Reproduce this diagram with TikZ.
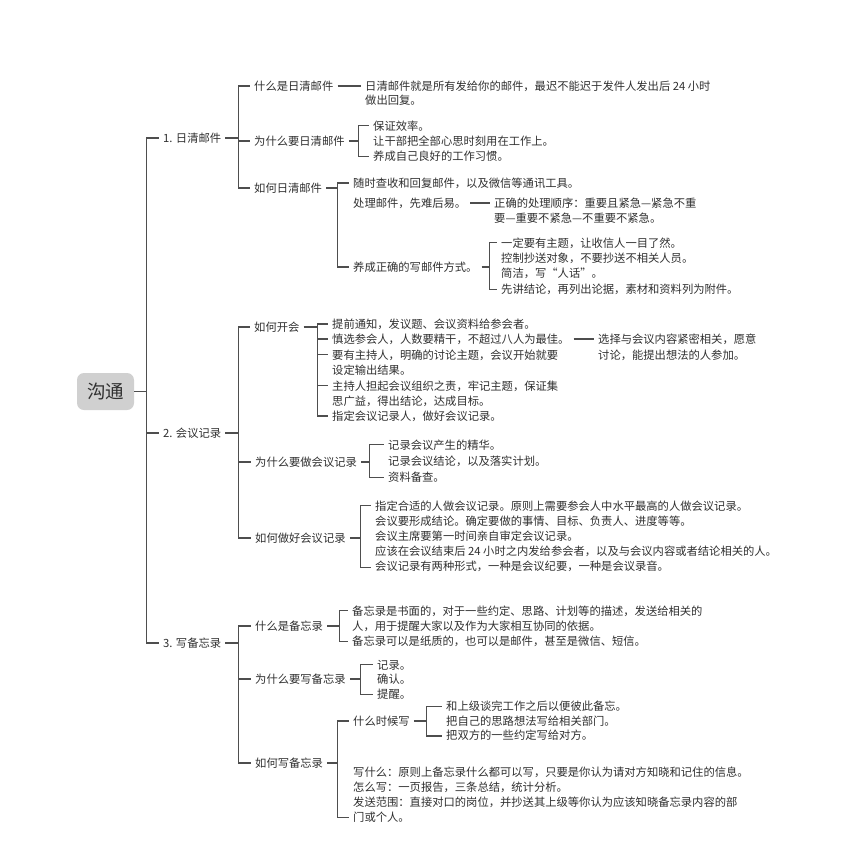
\documentclass[tikz,border=0pt]{standalone}
\usepackage{fontspec}
\setmainfont{Noto Sans CJK SC}
\usepackage{xcolor}
\definecolor{textgray}{HTML}{303030}
\definecolor{linegray}{HTML}{4E4E4E}
\definecolor{rootgray}{HTML}{D0D0D0}
\usetikzlibrary{calc}
\newcommand{\notefont}[1]{\fontsize{11.3}{#1}\selectfont}
\tikzset{
  topic/.style={anchor=west, inner xsep=4pt, inner ysep=1pt, text=textgray, font=\notefont{14.5}},
  note/.style={topic, align=left},
  branch/.style={draw=linegray, line width=1.05pt},
  rootbox/.style={fill=rootgray, rounded corners=7pt, minimum width=57pt, minimum height=37pt, text=textgray, font=\fontsize{18.5}{20}\selectfont},
}

\begin{document}
\begin{tikzpicture}[x=1pt, y=-1pt]
  \useasboundingbox (0,0) rectangle (846,855);
  \fill[white] (0,0) rectangle (846,855);

  \node[rootbox] (root) at (105.5,391.5) {沟通};
  \node[topic] (A) at (159,138) {1. 日清邮件};
  \node[topic] (B) at (159,433) {2. 会议记录};
  \node[topic] (C) at (159,643) {3. 写备忘录};

  \node[topic] (A1) at (250,86) {什么是日清邮件};
  \node[topic] (A2) at (250,141) {为什么要日清邮件};
  \node[topic] (A3) at (250,188) {如何日清邮件};
  \node[note, font=\notefont{14}] (A1t) at (361,93) {日清邮件就是所有发给你的邮件，最迟不能迟于发件人发出后 24 小时\\做出回复。};
  \node[note, font=\notefont{15}] (A2t) at (369,141) {保证效率。\\让干部把全部心思时刻用在工作上。\\养成自己良好的工作习惯。};
  \node[topic] (A31) at (349,183) {随时查收和回复邮件，以及微信等通讯工具。};
  \node[topic] (A32) at (349,203) {处理邮件，先难后易。};
  \node[topic] (A33) at (349,267) {养成正确的写邮件方式。};
  \node[note, font=\notefont{15}] (A32t) at (490,210.5) {正确的处理顺序：重要且紧急—紧急不重\\要—重要不紧急—不重要不紧急。};
  \node[note, font=\notefont{15.3}] (A33t) at (497,266) {一定要有主题，让收信人一目了然。\\控制抄送对象，不要抄送不相关人员。\\简洁，写“人话”。\\先讲结论，再列出论据，素材和资料列为附件。};

  \node[topic] (B1) at (250,327) {如何开会};
  \node[topic] (B11) at (328,324) {提前通知，发议题、会议资料给参会者。};
  \node[topic] (B12) at (328,339) {慎选参会人，人数要精干，不超过八人为最佳。};
  \node[note, font=\notefont{15}] (B13) at (328,362.5) {要有主持人，明确的讨论主题，会议开始就要\\设定输出结果。};
  \node[note, font=\notefont{15}] (B14) at (328,393.5) {主持人担起会议组织之责，牢记主题，保证集\\思广益，得出结论，达成目标。};
  \node[topic] (B15) at (328,416) {指定会议记录人，做好会议记录。};
  \node[note, font=\notefont{16}] (B12t) at (594,347) {选择与会议内容紧密相关，愿意\\讨论，能提出想法的人参加。};
  \node[topic] (B2) at (251,462) {为什么要做会议记录};
  \node[note, font=\notefont{16}] (B2t) at (384,461) {记录会议产生的精华。\\记录会议结论，以及落实计划。\\资料备查。};
  \node[topic] (B3) at (251,538) {如何做好会议记录};
  \node[note, font=\notefont{15}] (B3t) at (371,536.5) {指定合适的人做会议记录。原则上需要参会人中水平最高的人做会议记录。\\会议要形成结论。确定要做的事情、目标、负责人、进度等等。\\会议主席要第一时间亲自审定会议记录。\\应该在会议结束后 24 小时之内发给参会者，以及与会议内容或者结论相关的人。\\会议记录有两种形式，一种是会议纪要，一种是会议录音。};

  \node[topic] (C1) at (251,626) {什么是备忘录};
  \node[note, font=\notefont{15}] (C1t) at (348,626) {备忘录是书面的，对于一些约定、思路、计划等的描述，发送给相关的\\人，用于提醒大家以及作为大家相互协同的依据。\\备忘录可以是纸质的，也可以是邮件，甚至是微信、短信。};
  \node[topic] (C2) at (251,679) {为什么要写备忘录};
  \node[note] (C2t) at (373,679.5) {记录。\\确认。\\提醒。};
  \node[topic] (C3) at (251,763) {如何写备忘录};
  \node[topic] (C31) at (349,721) {什么时候写};
  \node[note, font=\notefont{14.5}] (C31t) at (442,721) {和上级谈完工作之后以便彼此备忘。\\把自己的思路想法写给相关部门。\\把双方的一些约定写给对方。};
  \node[note, font=\notefont{15}] (C32) at (349,795) {写什么：原则上备忘录什么都可以写，只要是你认为请对方知晓和记住的信息。\\怎么写：一页报告，三条总结，统计分析。\\发送范围：直接对口的岗位，并抄送其上级等你认为应该知晓备忘录内容的部\\门或个人。};

  \draw[branch] (root.east) -- ++(12,0) coordinate (t0);
  \foreach \n in {A,B,C} \draw[branch] (t0) |- (\n.west);
  \draw[branch] (A.east) -- ++(13,0) coordinate (tA);
  \foreach \n in {A1,A2,A3} \draw[branch] (tA) |- (\n.west);
  \draw[branch] (B.east) -- ++(13,0) coordinate (tB);
  \foreach \n in {B1,B2,B3} \draw[branch] (tB) |- (\n.west);
  \draw[branch] (C.east) -- ++(13,0) coordinate (tC);
  \foreach \n in {C1,C2,C3} \draw[branch] (tC) |- (\n.west);

  \draw[branch] (A1.east) -- (A1.east -| A1t.west);
  \draw[branch] (A2.east) -- ++(10,0) coordinate (tA2);
  \draw[branch] (tA2) |- ($(A2t.north west)+(0,6)$);
  \draw[branch] (tA2) |- ($(A2t.south west)+(0,-6)$);
  \draw[branch] (A3.east) -- ++(11,0) coordinate (tA3);
  \draw[branch] (tA3) |- (A31.west);
  \draw[branch] (tA3) |- (A33.west);
  \draw[branch] (A32.east) -- (A32.east -| A32t.west);
  \draw[branch] (A33.east) -- ++(8,0) coordinate (tA33);
  \draw[branch] (tA33) |- ($(A33t.north west)+(0,6)$);
  \draw[branch] (tA33) |- ($(A33t.south west)+(0,-6)$);

  \draw[branch] (B1.east) -- ++(14,0) coordinate (tB1);
  \foreach \n in {B11,B12,B15} \draw[branch] (tB1) |- (\n.west);
  \foreach \n in {B13,B14} \draw[branch] (tB1) |- ($(\n.north west)+(0,6)$);
  \draw[branch] (B12.east) -- (B12.east -| B12t.west);
  \draw[branch] (B2.east) -- ++(8,0) coordinate (tB2);
  \draw[branch] (tB2) |- ($(B2t.north west)+(0,6)$);
  \draw[branch] (tB2) |- ($(B2t.south west)+(0,-6)$);
  \draw[branch] (B3.east) -- ++(11,0) coordinate (tB3);
  \draw[branch] (tB3) |- ($(B3t.north west)+(0,6)$);
  \draw[branch] (tB3) |- ($(B3t.south west)+(0,-6)$);

  \draw[branch] (C1.east) -- ++(12,0) coordinate (tC1);
  \draw[branch] (tC1) |- ($(C1t.north west)+(0,6)$);
  \draw[branch] (tC1) |- ($(C1t.south west)+(0,-6)$);
  \draw[branch] (C2.east) -- ++(11,0) coordinate (tC2);
  \draw[branch] (tC2) |- ($(C2t.north west)+(0,6)$);
  \draw[branch] (tC2) |- ($(C2t.south west)+(0,-6)$);
  \draw[branch] (C3.east) -- ++(10,0) coordinate (tC3);
  \draw[branch] (tC3) |- (C31.west);
  \draw[branch] (tC3) |- ($(C32.south west)+(0,-6)$);
  \draw[branch] (C31.east) -- ++(13,0) coordinate (tC31);
  \draw[branch] (tC31) |- ($(C31t.north west)+(0,6)$);
  \draw[branch] (tC31) |- ($(C31t.south west)+(0,-6)$);
\end{tikzpicture}
\end{document}
